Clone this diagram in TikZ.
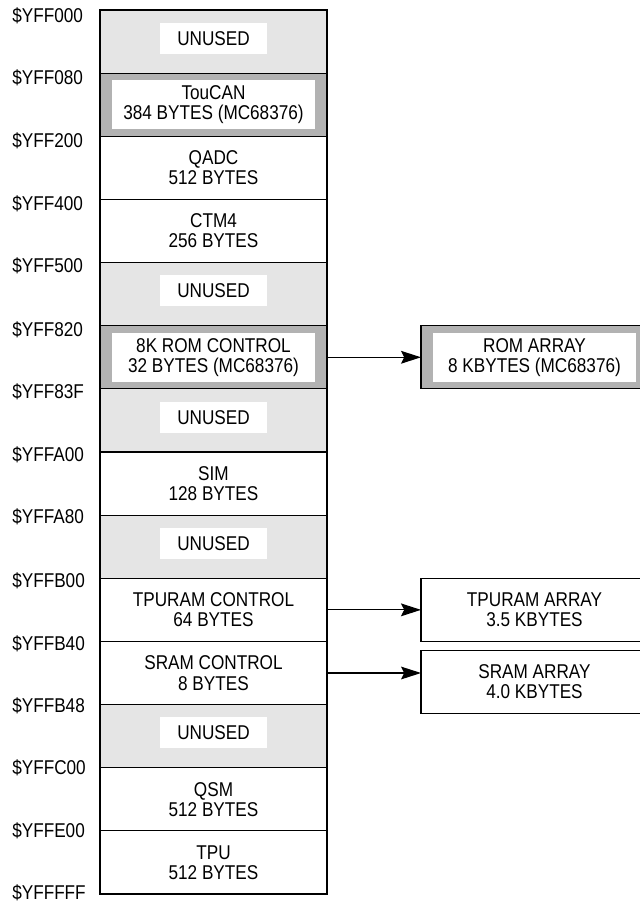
\documentclass[tikz,border=0pt]{standalone}
\usepackage{fontspec}
\setmainfont{Liberation Sans}[FakeStretch=0.86]
\usepackage{tikz}
\usetikzlibrary{positioning, arrows.meta, calc}
\definecolor{unusedgray}{gray}{0.9}
\definecolor{optgray}{gray}{0.7}
\newcommand{\mapfont}{\fontsize{14.2}{14.4}\selectfont}

\begin{document}
\begin{tikzpicture}[font = \mapfont,
    row/.style = {draw, line width=0.8pt, minimum width=5.675cm, minimum height=1.5786cm,
                  inner sep=0pt, outer sep=0pt, align=center},
    unused/.style = {row, fill=unusedgray},
    opt/.style = {row, fill=optgray},
    hole/.style = {fill=white, inner sep=0pt, minimum width=2.675cm, minimum height=0.775cm},
    optin/.style = {fill=white, inner sep=0pt, minimum width=5.075cm, minimum height=1.228cm, align=center},
    addr/.style = {anchor=west, inner sep=0pt},
    arr/.style = {-{Stealth[length=0.5cm, width=0.32cm, inset=0.08cm]}, line width=0.8pt}]
    \useasboundingbox (0,0) rectangle (16,-22.575);
    \clip (0,0) rectangle (16,-22.575);

    % memory map column
    \node[unused] (r1) at (5.3375,-1.039) {};
    \node[opt, below=0pt of r1] (r2) {};
    \node[row, below=0pt of r2] (r3) {QADC\\512 BYTES};
    \node[row, below=0pt of r3] (r4) {CTM4\\256 BYTES};
    \node[unused, below=0pt of r4] (r5) {};
    \node[opt, below=0pt of r5] (r6) {};
    \node[unused, below=0pt of r6] (r7) {};
    \node[row, below=0pt of r7] (r8) {SIM\\128 BYTES};
    \node[unused, below=0pt of r8] (r9) {};
    \node[row, below=0pt of r9] (r10) {TPURAM CONTROL\\64 BYTES};
    \node[row, below=0pt of r10] (r11) {SRAM CONTROL\\8 BYTES};
    \node[unused, below=0pt of r11] (r12) {};
    \node[row, below=0pt of r12] (r13) {QSM\\512 BYTES};
    \node[row, below=0pt of r13] (r14) {TPU\\512 BYTES};

    \node[hole] (u1) at ($(r1)+(0,0.08)$) {UNUSED};
    \node[optin] (t2) at (r2) {TouCAN\\384 BYTES (MC68376)};
    \node[hole] (u5) at ($(r5)+(0,0.08)$) {UNUSED};
    \node[optin] (t6) at (r6) {8K ROM CONTROL\\32 BYTES (MC68376)};
    \node[hole] (u7) at ($(r7)+(0,0.08)$) {UNUSED};
    \node[hole] (u9) at ($(r9)+(0,0.08)$) {UNUSED};
    \node[hole] (u12) at ($(r12)+(0,0.08)$) {UNUSED};

    % addresses
    \node[addr] (a0) at (0.3,-0.388) {\$YFF000};
    \node[addr] (a1) at (0.3,-1.953) {\$YFF080};
    \node[addr] (a2) at (0.3,-3.519) {\$YFF200};
    \node[addr] (a3) at (0.3,-5.085) {\$YFF400};
    \node[addr] (a4) at (0.3,-6.651) {\$YFF500};
    \node[addr] (a5) at (0.3,-8.25) {\$YFF820};
    \node[addr] (a6) at (0.3,-9.80) {\$YFF83F};
    \node[addr] (a7) at (0.3,-11.37) {\$YFFA00};
    \node[addr] (a8) at (0.3,-12.93) {\$YFFA80};
    \node[addr] (a9) at (0.3,-14.53) {\$YFFB00};
    \node[addr] (a10) at (0.3,-16.09) {\$YFFB40};
    \node[addr] (a11) at (0.3,-17.64) {\$YFFB48};
    \node[addr] (a12) at (0.3,-19.20) {\$YFFC00};
    \node[addr] (a13) at (0.3,-20.76) {\$YFFE00};
    \node[addr] (a14) at (0.3,-22.31) {\$YFFFFF};

    % arrays
    \node[opt, right=2.35cm of r6] (romarr) {};
    \node[optin] (romtxt) at (romarr) {ROM ARRAY\\8 KBYTES (MC68376)};
    \node[row, right=2.35cm of r10] (tpuarr) {TPURAM ARRAY\\3.5 KBYTES};
    \node[row, below=0.22cm of tpuarr] (sramarr) {SRAM ARRAY\\4.0 KBYTES};

    \draw[arr] (r6) -- (romarr);
    \draw[arr] (r10) -- (tpuarr);
    \draw[arr] (r11.east) -- (r11.east -| sramarr.west);

\end{tikzpicture}
\end{document}
